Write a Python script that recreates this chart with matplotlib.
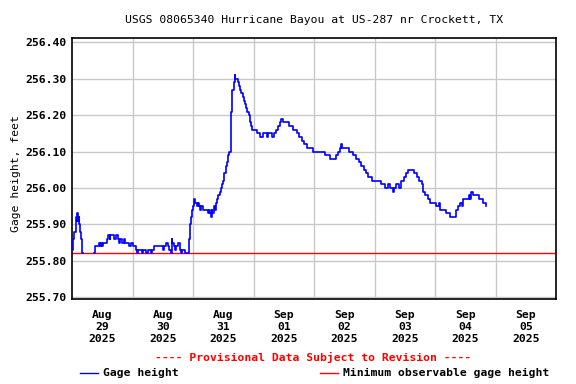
import numpy as np
import matplotlib
matplotlib.use("Agg")
import matplotlib.pyplot as plt
from matplotlib.lines import Line2D

# ---------------------------
# Data (days since Aug 28 12:00, gage height in feet)
# ---------------------------
site_title = "USGS 08065340 Hurricane Bayou at US-287 nr Crockett, TX"

days = [
    0.00, 0.02, 0.04, 0.06, 0.07, 0.08, 0.09, 0.10, 0.11, 0.12, 0.13, 0.14, 0.15, 0.16, 0.17,
    0.18,
    0.37, 0.375, 0.38, 0.42, 0.44, 0.46, 0.48, 0.50, 0.52, 0.56, 0.58, 0.60, 0.62, 0.63, 0.68,
    0.70, 0.72, 0.74, 0.76, 0.78, 0.80, 0.82, 0.86, 0.88, 0.92, 0.94, 0.98, 1.00, 1.04, 1.05,
    1.07, 1.09, 1.12, 1.16, 1.18, 1.22, 1.26, 1.30, 1.32, 1.35, 1.40, 1.46, 1.50, 1.52, 1.55,
    1.58, 1.60, 1.63, 1.64, 1.65, 1.66, 1.68, 1.70, 1.72, 1.74, 1.76, 1.78, 1.80, 1.82, 1.85,
    1.86, 1.92, 1.93, 1.94, 1.95, 1.96, 1.98, 2.00, 2.02, 2.04, 2.06, 2.08, 2.10, 2.12, 2.14,
    2.16, 2.20, 2.24, 2.26, 2.28, 2.30, 2.31, 2.32, 2.34, 2.36, 2.38, 2.40, 2.42, 2.44, 2.46,
    2.48, 2.50, 2.52, 2.54, 2.56, 2.58, 2.60, 2.62, 2.63, 2.65, 2.67, 2.69, 2.70, 2.72, 2.74,
    2.76, 2.78, 2.80, 2.82, 2.84, 2.86, 2.88, 2.90, 2.92, 2.94, 2.96, 2.98, 3.02, 3.06, 3.10,
    3.14, 3.16, 3.20, 3.22, 3.24, 3.28, 3.31, 3.34, 3.38, 3.40, 3.43, 3.46, 3.48, 3.56, 3.58,
    3.62, 3.66, 3.70, 3.72, 3.76, 3.80, 3.84, 3.88, 3.94, 3.98, 4.14, 4.18, 4.26, 4.34, 4.36,
    4.40, 4.43, 4.45, 4.47, 4.54, 4.58, 4.64, 4.70, 4.74, 4.78, 4.82, 4.86, 4.90, 4.96, 5.05,
    5.10, 5.18, 5.22, 5.26, 5.30, 5.32, 5.36, 5.40, 5.44, 5.48, 5.52, 5.56, 5.64, 5.66, 5.70,
    5.74, 5.78, 5.80, 5.84, 5.88, 5.92, 5.98, 6.02, 6.06, 6.08, 6.14, 6.18, 6.24, 6.32, 6.34,
    6.38, 6.42, 6.44, 6.46, 6.52, 6.56, 6.58, 6.60, 6.62, 6.68, 6.72, 6.76, 6.80, 6.84,
]

gage_height = [
    255.83, 255.86, 255.88, 255.91, 255.92, 255.91, 255.93, 255.91, 255.92, 255.90, 255.89, 255.88, 255.86, 255.85, 255.82,
    np.nan,
    255.82, 255.83, 255.84, 255.84, 255.85, 255.84, 255.85, 255.84, 255.85, 255.85, 255.86, 255.87, 255.86, 255.87, 255.87,
    255.86, 255.87, 255.87, 255.86, 255.85, 255.86, 255.85, 255.86, 255.85, 255.85, 255.84, 255.85, 255.84, 255.84, 255.83,
    255.82, 255.83, 255.83, 255.82, 255.83, 255.82, 255.83, 255.82, 255.83, 255.84, 255.84, 255.84, 255.83, 255.84, 255.85,
    255.84, 255.83, 255.83, 255.82, 255.86, 255.85, 255.84, 255.83, 255.84, 255.84, 255.85, 255.83, 255.82, 255.83, 255.83,
    255.82, 255.82, 255.84, 255.86, 255.90, 255.92, 255.94, 255.95, 255.97, 255.96, 255.95, 255.96, 255.95, 255.94, 255.95,
    255.94, 255.94, 255.93, 255.94, 255.93, 255.92, 255.94, 255.93, 255.95, 255.94, 255.96, 255.97, 255.98, 255.99, 256.00,
    256.01, 256.02, 256.04, 256.06, 256.07, 256.09, 256.10, 256.14, 256.21, 256.27, 256.29, 256.31, 256.30, 256.30, 256.29,
    256.28, 256.27, 256.26, 256.25, 256.24, 256.23, 256.22, 256.21, 256.20, 256.18, 256.17, 256.16, 256.16, 256.15, 256.14,
    256.14, 256.15, 256.15, 256.14, 256.15, 256.15, 256.14, 256.15, 256.16, 256.17, 256.18, 256.19, 256.18, 256.18, 256.17,
    256.17, 256.16, 256.16, 256.15, 256.14, 256.13, 256.12, 256.11, 256.11, 256.10, 256.10, 256.09, 256.08, 256.08, 256.09,
    256.10, 256.11, 256.12, 256.11, 256.11, 256.10, 256.09, 256.08, 256.07, 256.06, 256.05, 256.04, 256.03, 256.02, 256.02,
    256.01, 256.00, 256.01, 256.00, 255.99, 256.00, 256.01, 256.00, 256.02, 256.03, 256.04, 256.05, 256.05, 256.04, 256.03,
    256.02, 256.01, 255.99, 255.98, 255.97, 255.96, 255.96, 255.95, 255.96, 255.94, 255.94, 255.93, 255.92, 255.92, 255.94,
    255.95, 255.96, 255.95, 255.97, 255.97, 255.98, 255.97, 255.99, 255.98, 255.98, 255.97, 255.97, 255.96, 255.95,
]

min_observable = 255.82

day_labels = ["Aug\n29\n2025", "Aug\n30\n2025", "Aug\n31\n2025", "Sep\n01\n2025",
              "Sep\n02\n2025", "Sep\n03\n2025", "Sep\n04\n2025", "Sep\n05\n2025"]
label_pos = [0.5, 1.5, 2.5, 3.5, 4.5, 5.5, 6.5, 7.5]
grid_pos = [1, 2, 3, 4, 5, 6, 7]
y_ticks = [255.70, 255.80, 255.90, 256.00, 256.10, 256.20, 256.30, 256.40]

# ---------------------------
# Plot
# ---------------------------
plt.rcParams["font.family"] = "DejaVu Sans Mono"
plt.rcParams["font.weight"] = "bold"
plt.rcParams["font.size"] = 8.2

fig = plt.figure(figsize=(5.76, 3.84), dpi=100)
ax = fig.add_axes([0.125, 0.2214, 0.8403, 0.6797])

grid_col = "#c8c8c8"
ax.set_xlim(0, 8)
ax.set_ylim(255.695, 256.412)

ax.set_yticks(y_ticks)
ax.set_yticklabels([f"{v:.2f}" for v in y_ticks])
ax.set_xticks(label_pos)
ax.set_xticklabels(day_labels, linespacing=1.25)
ax.set_xticks(grid_pos, minor=True)
ax.tick_params(axis="both", which="both", length=0)
ax.tick_params(axis="y", pad=4)
ax.tick_params(axis="x", pad=8)

ax.grid(False)
for g in grid_pos:
    ax.axvline(g, color=grid_col, lw=1, zorder=1)
for v in y_ticks:
    ax.axhline(v, color=grid_col, lw=1, zorder=1)

ax.axhline(min_observable, color="#ff0000", lw=1, zorder=2)
ax.plot(days, gage_height, color="#0000ff", lw=1.2, drawstyle="steps-post", zorder=3)

for s in ax.spines.values():
    s.set_color("black")
    s.set_linewidth(1.2)

ax.set_ylabel("Gage height, feet")
ax.yaxis.set_label_coords(-0.105, 0.48)
ax.set_title(site_title, fontsize=8.2, pad=10.5)

fig.text(0.543, 0.068, "---- Provisional Data Subject to Revision ----",
         color="#ff0000", ha="center", va="center")

# legend
fig.add_artist(Line2D([80 / 576, 98 / 576], [1 - 373 / 384] * 2, color="#0000ff", lw=1))
fig.text(103 / 576, 1 - 373 / 384, "Gage height", va="center")
fig.add_artist(Line2D([320 / 576, 338 / 576], [1 - 373 / 384] * 2, color="#ff0000", lw=1))
fig.text(343 / 576, 1 - 373 / 384, "Minimum observable gage height", va="center")

fig.savefig("out.png", dpi=100)
